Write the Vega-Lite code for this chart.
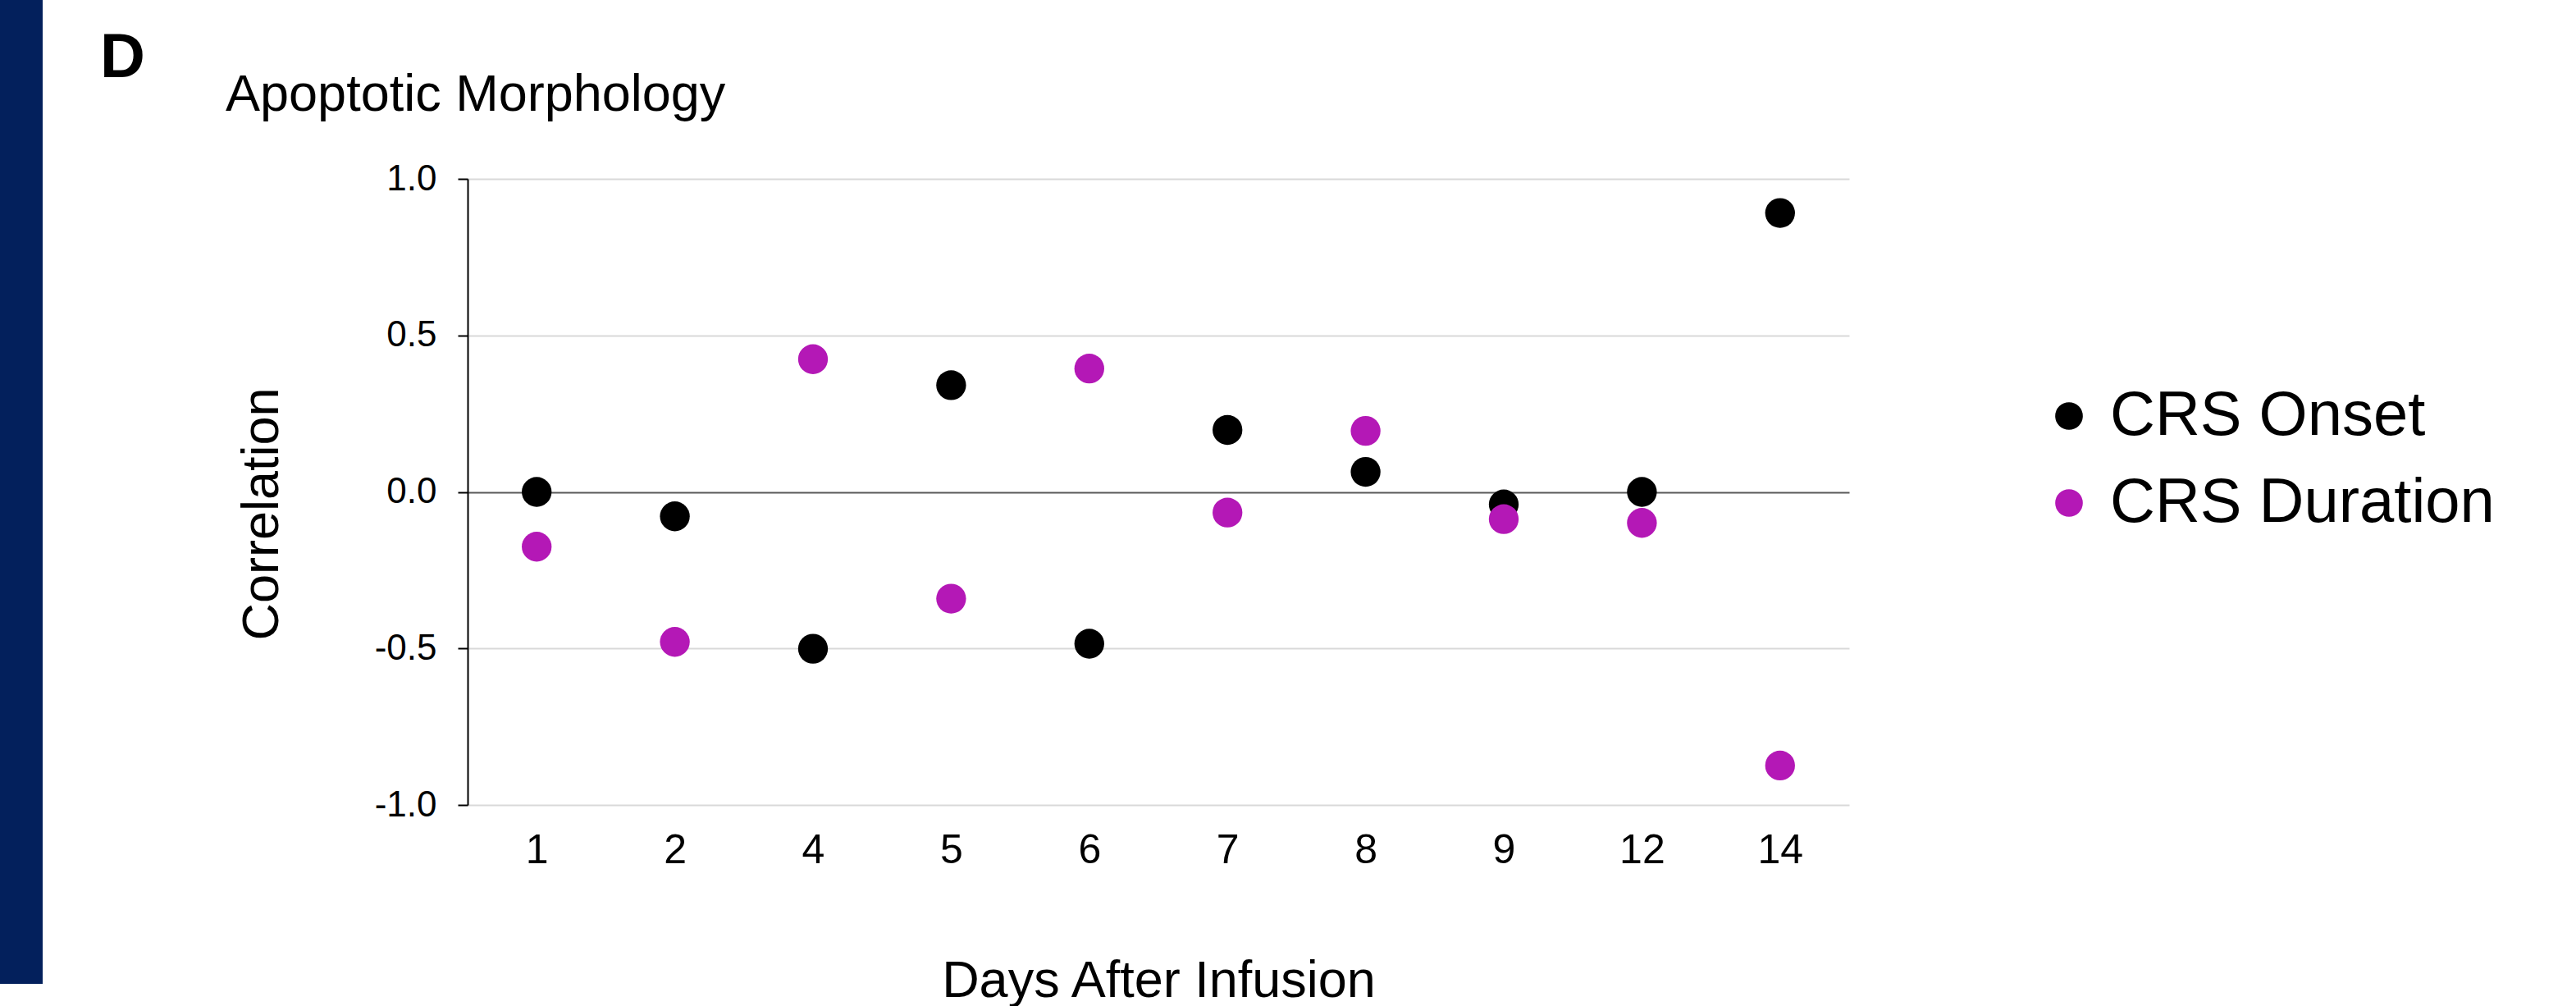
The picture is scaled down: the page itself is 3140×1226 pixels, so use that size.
{
  "$schema": "https://vega.github.io/schema/vega-lite/v6.json",
  "padding": 0,
  "background": "white",
  "spacing": 518,
  "bounds": "flush",
  "center": true,
  "config": {"font": "Liberation Sans", "view": {"stroke": null}},
  "hconcat": [
    {
      "width": 52,
      "height": 1199,
      "view": {"fill": "#03205C", "stroke": null},
      "title": {"text": "D", "fontSize": 76, "fontWeight": "bold", "anchor": "start", "frame": "group", "dx": 122, "offset": -170, "baseline": "alphabetic", "color": "black"},
      "data": {"values": []},
      "mark": "point"
    },
    {
      "width": 1684,
      "height": 763,
      "title": {"text": "Apoptotic Morphology", "fontSize": 63, "fontWeight": "normal", "anchor": "start", "frame": "group", "dx": -295, "offset": -2, "baseline": "alphabetic", "color": "black"},
      "data": {
        "values": [
          {"day": "1", "series": "CRS Onset", "correlation": 0.0},
          {"day": "2", "series": "CRS Onset", "correlation": -0.078},
          {"day": "4", "series": "CRS Onset", "correlation": -0.501},
          {"day": "5", "series": "CRS Onset", "correlation": 0.341},
          {"day": "6", "series": "CRS Onset", "correlation": -0.485},
          {"day": "7", "series": "CRS Onset", "correlation": 0.198},
          {"day": "8", "series": "CRS Onset", "correlation": 0.064},
          {"day": "9", "series": "CRS Onset", "correlation": -0.04},
          {"day": "12", "series": "CRS Onset", "correlation": 0.0},
          {"day": "14", "series": "CRS Onset", "correlation": 0.891},
          {"day": "1", "series": "CRS Duration", "correlation": -0.175},
          {"day": "2", "series": "CRS Duration", "correlation": -0.479},
          {"day": "4", "series": "CRS Duration", "correlation": 0.424},
          {"day": "5", "series": "CRS Duration", "correlation": -0.341},
          {"day": "6", "series": "CRS Duration", "correlation": 0.394},
          {"day": "7", "series": "CRS Duration", "correlation": -0.066},
          {"day": "8", "series": "CRS Duration", "correlation": 0.195},
          {"day": "9", "series": "CRS Duration", "correlation": -0.087},
          {"day": "12", "series": "CRS Duration", "correlation": -0.099},
          {"day": "14", "series": "CRS Duration", "correlation": -0.874}
        ]
      },
      "mark": {"type": "circle", "size": 1320, "opacity": 1},
      "encoding": {
        "x": {
          "field": "day",
          "type": "ordinal",
          "sort": ["1", "2", "4", "5", "6", "7", "8", "9", "12", "14"],
          "scale": {"type": "point", "padding": 0.5},
          "title": "Days After Infusion",
          "axis": {
            "domain": false,
            "ticks": false,
            "grid": false,
            "labelAngle": 0,
            "labelFontSize": 50,
            "labelColor": "black",
            "labelPadding": 30,
            "titleFontSize": 63,
            "titleFontWeight": "normal",
            "titleColor": "black",
            "titleBaseline": "alphabetic",
            "titleY": 233
          }
        },
        "y": {
          "field": "correlation",
          "type": "quantitative",
          "scale": {"domain": [-1, 1], "nice": false, "zero": false},
          "title": "Correlation",
          "axis": {
            "values": [-1, -0.5, 0, 0.5, 1],
            "labelExpr": "replace(format(datum.value, '.1f'), '\u2212', '-')",
            "labelFontSize": 44,
            "labelColor": "black",
            "labelPadding": 26,
            "tickSize": 12,
            "tickWidth": 2,
            "tickColor": "black",
            "domainColor": "black",
            "domainWidth": 2,
            "grid": true,
            "gridWidth": 2,
            "gridColor": {"condition": {"test": "datum.value === 0", "value": "#595959"}, "value": "#D9D9D9"},
            "titleFontSize": 63,
            "titleFontWeight": "normal",
            "titleColor": "black",
            "titleAngle": -90,
            "titleAlign": "center",
            "titleBaseline": "alphabetic",
            "titleX": -232,
            "titleY": 408
          }
        },
        "color": {
          "field": "series",
          "type": "nominal",
          "scale": {"domain": ["CRS Onset", "CRS Duration"], "range": ["#000000", "#B418B6"]},
          "legend": {
            "title": null,
            "orient": "none",
            "legendX": 2484,
            "legendY": 469,
            "labelFontSize": 76,
            "labelColor": "black",
            "symbolType": "circle",
            "symbolSize": 1134,
            "symbolStrokeWidth": 0,
            "labelOffset": 12,
            "rowPadding": 30,
            "padding": 0,
            "labelLimit": 0
          }
        }
      }
    }
  ]
}
